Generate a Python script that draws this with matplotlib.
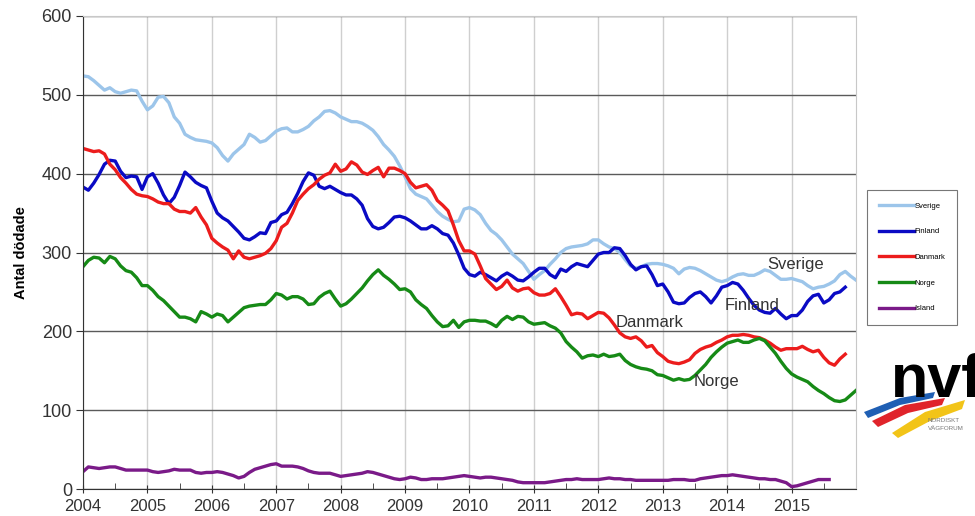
import numpy as np
import matplotlib.pyplot as plt
from matplotlib.patches import Polygon
from matplotlib.ticker import MultipleLocator

plt.rcParams['font.family'] = ['Liberation Sans', 'DejaVu Sans']

# rolling yearly totals, monthly from jan 2004
sverige = [524, 523, 518, 512, 506, 509, 504, 502, 504, 506, 505, 492,
           481, 486, 497, 498, 490, 472, 464, 450, 446, 443, 442, 441,
           439, 433, 423, 416, 425, 431, 437, 450, 446, 440, 442, 448,
           454, 457, 458, 453, 453, 456, 460, 467, 472, 479, 480, 477,
           472, 469, 466, 466, 464, 460, 455, 447, 437, 430, 422, 410,
           396, 381, 374, 371, 368, 360, 352, 346, 342, 339, 340, 355,
           357, 354, 348, 337, 328, 323, 316, 307, 298, 292, 286, 276,
           266, 272, 277, 285, 292, 300, 305, 307, 308, 309, 311, 316,
           316, 311, 307, 305, 300, 291, 283, 280, 282, 285, 286, 286,
           285, 283, 280, 273, 279, 281, 280, 277, 273, 269, 265, 263,
           265, 269, 272, 273, 271, 271, 274, 278, 276, 271, 266, 266,
           267, 265, 263, 258, 254, 256, 257, 260, 264, 272, 276, 270,
           265]
finland = [383, 379, 388, 399, 412, 417, 416, 403, 395, 397, 396, 380,
           396, 400, 388, 373, 362, 370, 385, 402, 396, 389, 385, 382,
           365, 350, 344, 340, 333, 326, 318, 316, 320, 325, 324, 338,
           340, 348, 351, 362, 375, 390, 401, 398, 384, 381, 384, 380,
           376, 373, 373, 368, 360, 343, 333, 330, 332, 338, 345, 346,
           344, 340, 335, 330, 330, 334, 330, 324, 322, 312, 297, 280,
           272, 270, 275, 272, 268, 264, 270, 274, 270, 265, 264, 269,
           275, 280, 280, 272, 268, 279, 276, 282, 286, 284, 282, 290,
           298, 300, 300, 306, 305, 296, 285, 278, 282, 283, 272, 258,
           260, 250, 237, 235, 236, 243, 248, 250, 244, 236, 245, 256,
           258, 262, 260, 252, 242, 233, 227, 224, 223, 229, 222, 216,
           220, 220, 227, 238, 245, 247, 236, 240, 248, 250, 256]
danmark = [432, 430, 428, 429, 425, 412, 405, 395, 388, 380, 374, 372,
           371, 368, 364, 362, 362, 355, 352, 352, 350, 357, 345, 335,
           318, 312, 307, 303, 292, 302, 294, 292, 294, 296, 299, 305,
           315, 332, 337, 350, 366, 374, 381, 386, 393, 398, 401, 412,
           403, 406, 415, 411, 402, 399, 404, 408, 396, 407, 407, 404,
           400, 389, 382, 384, 386, 379, 366, 360, 353, 335, 315, 302,
           302, 298, 283, 267, 260, 253, 257, 265, 255, 251, 254, 255,
           249, 246, 246, 248, 254, 244, 233, 221, 223, 222, 216, 220,
           224, 223, 217, 208, 198, 193, 191, 193, 188, 180, 182, 173,
           168, 162, 160, 159, 161, 164, 172, 177, 180, 182, 186, 189,
           193, 195, 195, 196, 195, 193, 192, 189, 185, 180, 176, 178,
           178, 178, 181, 177, 174, 176, 167, 160, 157, 165, 171]
norge = [282, 290, 294, 293, 287, 295, 292, 283, 277, 275, 268, 258,
         258, 252, 244, 239, 232, 225, 218, 218, 216, 212, 225, 222,
         218, 222, 220, 212, 218, 224, 230, 232, 233, 234, 234, 240,
         248, 246, 241, 244, 244, 241, 234, 235, 243, 248, 251, 241,
         232, 235, 241, 248, 255, 264, 272, 278, 271, 266, 260, 253,
         254, 250, 240, 234, 229, 220, 212, 206, 207, 214, 205, 212,
         214, 214, 213, 213, 210, 206, 214, 219, 215, 219, 218, 212,
         209, 210, 211, 207, 204, 198, 187, 180, 174, 166, 169, 170,
         168, 171, 168, 169, 171, 163, 158, 155, 153, 152, 150, 145,
         144, 141, 138, 140, 138, 139, 144, 151, 158, 167, 174, 180,
         185, 187, 189, 186, 186, 189, 191, 188, 180, 172, 162, 153,
         146, 142, 139, 136, 130, 125, 121, 116, 112, 111, 113, 119,
         125]
island = [22, 28, 27, 26, 27, 28, 28, 26, 24, 24, 24, 24,
          24, 22, 21, 22, 23, 25, 24, 24, 24, 21, 20, 21,
          21, 22, 21, 19, 17, 14, 16, 21, 25, 27, 29, 31,
          32, 29, 29, 29, 28, 26, 23, 21, 20, 20, 20, 18,
          16, 17, 18, 19, 20, 22, 21, 19, 17, 15, 13, 12,
          13, 15, 14, 12, 12, 13, 13, 13, 14, 15, 16, 17,
          16, 15, 14, 15, 15, 14, 13, 12, 11, 9, 8, 8,
          8, 8, 8, 9, 10, 11, 12, 12, 13, 12, 12, 12,
          12, 13, 14, 13, 13, 12, 12, 11, 11, 11, 11, 11,
          11, 11, 12, 12, 12, 11, 11, 13, 14, 15, 16, 17,
          17, 18, 17, 16, 15, 14, 13, 13, 12, 12, 10, 8,
          3, 4, 6, 8, 10, 12, 12, 12]

series = [('Sverige', sverige, '#9cc5ea'),
          ('Finland', finland, '#0a0ac4'),
          ('Danmark', danmark, '#ec1c1c'),
          ('Norge', norge, '#168a16'),
          ('Island', island, '#7a1a88')]

years = list(range(2004, 2016))
yticks = [0, 100, 200, 300, 400, 500, 600]


def months(vals):
    return 2004 + np.arange(len(vals)) / 12.0


fig = plt.figure(figsize=(9.75, 5.16), dpi=100)
ax = fig.add_axes([83 / 975, 1 - 489 / 516, (856 - 83) / 975, (489 - 16) / 516])

for name, vals, col in series:
    ax.plot(months(vals), vals, color=col, lw=2.4, label=name, solid_joinstyle='round')

ax.set_xlim(2004, 2016)
ax.set_ylim(0, 600)
ax.set_xticks(years)
ax.set_xticklabels([str(y) for y in years])
ax.xaxis.set_minor_locator(MultipleLocator(0.5))
ax.set_yticks(yticks)

ax.grid(axis='x', color='#cfcfcf', lw=1.0)
ax.grid(axis='y', color='#5a5a5a', lw=1.0)
ax.set_axisbelow(True)
for s in ['top', 'right']:
    ax.spines[s].set_color('#c8c8c8')
ax.spines['left'].set_color('#333333')
ax.spines['bottom'].set_color('#333333')
ax.tick_params(axis='x', which='major', direction='inout', length=6, labelsize=12,
               colors='#333333', pad=4)
ax.tick_params(axis='x', which='minor', direction='in', length=4, colors='#333333')
ax.tick_params(axis='y', direction='out', length=5, labelsize=13, colors='#333333', pad=3)
ax.set_ylabel('Antal dödade', fontsize=10.5, fontweight='bold', labelpad=10)

# labels next to lines
ax.text(2015.06, 285, 'Sverige', fontsize=12, color='#333333', ha='center', va='center')
ax.text(2014.39, 233, 'Finland', fontsize=12, color='#333333', ha='center', va='center')
ax.text(2012.8, 211, 'Danmark', fontsize=12, color='#333333', ha='center', va='center')
ax.text(2013.84, 136, 'Norge', fontsize=12, color='#333333', ha='center', va='center')

leg = fig.legend(loc='upper left', bbox_to_anchor=(867 / 975, 1 - 190 / 516),
                 fontsize=5.5, frameon=True, fancybox=False, edgecolor='#555555',
                 handlelength=4.5, handletextpad=0.1, labelspacing=2.4,
                 borderpad=1.6, borderaxespad=0)
leg.get_frame().set_linewidth(0.8)


# nvf logo, partly cut off at the right
def px(x, y):
    return (x / 975, 1 - y / 516)


fig.text(px(891, 0)[0], px(0, 397)[1], 'nvf', fontsize=44, fontweight='bold',
         color='black', ha='left', va='baseline')
stripes = [([(864, 412), (900, 398), (935, 392), (933, 398), (900, 405), (868, 418)], '#1f5fb4'),
           ([(872, 421), (905, 405), (945, 398), (942, 405), (908, 413), (878, 427)], '#e0242b'),
           ([(892, 433), (925, 412), (965, 400), (962, 409), (930, 421), (898, 438)], '#f2c418')]
for pts, col in stripes:
    fig.patches.append(Polygon([px(*p) for p in pts], closed=True, transform=fig.transFigure,
                               facecolor=col, edgecolor='none'))
fig.text(px(928, 0)[0], px(0, 421)[1], 'NORDISKT', fontsize=4.5, color='#777777', va='center')
fig.text(px(928, 0)[0], px(0, 428)[1], 'VÄGFORUM', fontsize=4.5, color='#777777', va='center')

fig.savefig('out.png', dpi=100)
